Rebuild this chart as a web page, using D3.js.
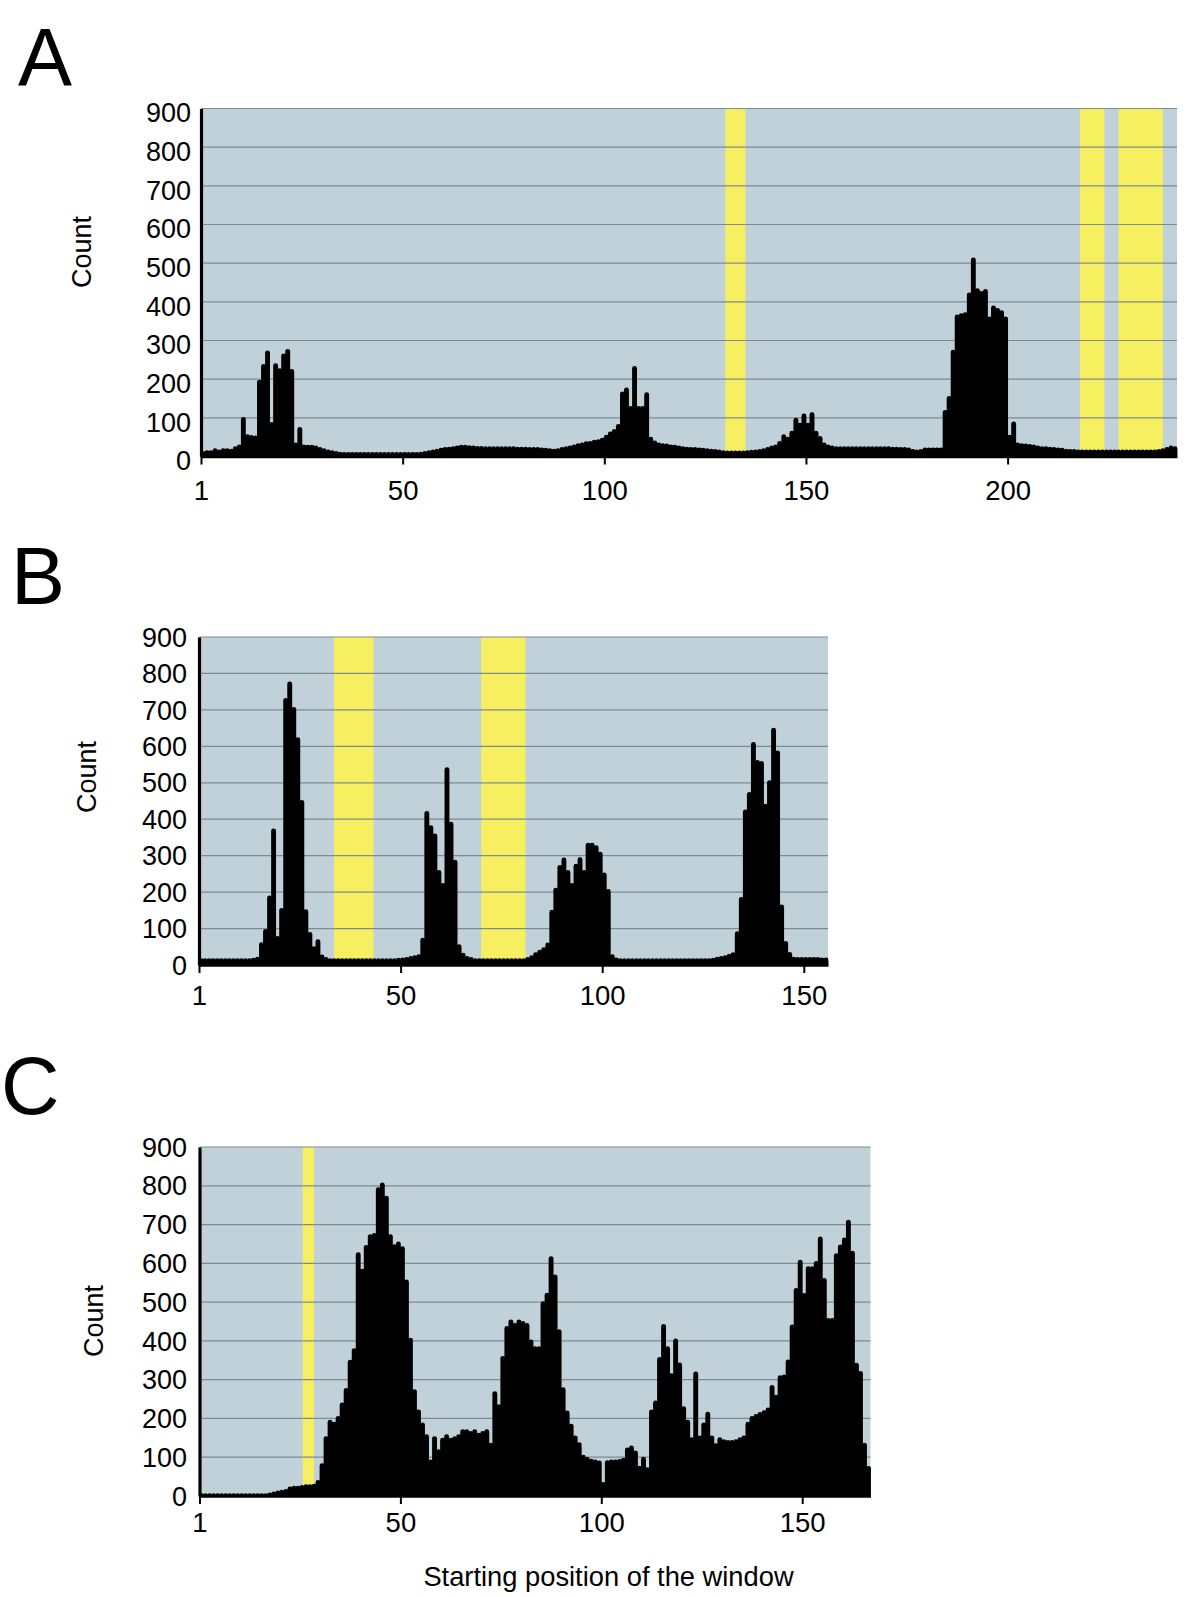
<!DOCTYPE html>
<html>
<head>
<meta charset="utf-8">
<script src="https://cdn.jsdelivr.net/npm/d3@7"></script>
<style>
body { margin: 0; background: #fff; }
svg text { font-family: "Liberation Sans", Arial, Helvetica, sans-serif; fill: #000; }
</style>
</head>
<body>
<svg id="fig" width="1196" height="1597"></svg>
<script>
// counts per window start position
var countsA = [
  8, 10, 10, 15, 12, 15, 15, 14, 20, 25,
  96, 51, 49, 48, 192, 233, 268, 83, 235, 222,
  260, 272, 220, 30, 70, 25, 24, 24, 22, 18,
  15, 12, 10, 8, 6, 5, 5, 5, 5, 5,
  5, 5, 5, 5, 5, 5, 5, 5, 5, 5,
  5, 5, 5, 5, 6, 8, 10, 12, 14, 16,
  18, 19, 20, 22, 24, 24, 23, 22, 21, 21,
  20, 20, 20, 20, 20, 20, 20, 20, 19, 19,
  19, 18, 18, 18, 17, 16, 15, 14, 15, 18,
  20, 22, 25, 28, 30, 33, 34, 37, 38, 42,
  50, 58, 65, 78, 162, 172, 124, 228, 124, 124,
  160, 45, 35, 30, 28, 27, 25, 24, 22, 20,
  19, 18, 18, 17, 16, 15, 14, 13, 12, 10,
  9, 9, 9, 9, 9, 10, 11, 12, 13, 15,
  18, 22, 25, 34, 51, 45, 60, 94, 81, 105,
  81, 108, 60, 47, 30, 25, 22, 20, 20, 20,
  20, 20, 20, 20, 20, 20, 20, 20, 20, 20,
  20, 19, 19, 18, 18, 17, 13, 12, 13, 17,
  17, 17, 17, 17, 114, 150, 270, 361, 364, 367,
  418, 508, 429, 422, 427, 356, 384, 378, 372, 356,
  50, 84, 30, 28, 27, 26, 25, 22, 20, 20,
  19, 18, 17, 16, 14, 13, 13, 12, 12, 12,
  12, 12, 12, 12, 12, 12, 12, 12, 12, 12,
  12, 12, 12, 12, 12, 12, 12, 13, 15, 18,
  22, 20
];

var countsB = [
  12, 12, 12, 12, 12, 12, 12, 12, 12, 12,
  12, 12, 12, 13, 16, 56, 92, 184, 368, 73,
  150, 726, 771, 701, 618, 446, 146, 84, 45, 64,
  22, 15, 12, 12, 12, 12, 12, 12, 12, 12,
  12, 12, 12, 12, 12, 12, 12, 12, 12, 13,
  14, 15, 18, 20, 23, 68, 416, 377, 354, 254,
  218, 536, 386, 282, 50, 27, 18, 15, 12, 12,
  12, 12, 12, 12, 12, 12, 12, 12, 12, 12,
  12, 15, 20, 28, 35, 42, 55, 145, 205, 268,
  288, 254, 218, 271, 289, 254, 329, 329, 322, 304,
  247, 202, 23, 14, 12, 12, 12, 12, 12, 12,
  12, 12, 12, 12, 12, 12, 12, 12, 12, 12,
  12, 12, 12, 12, 12, 12, 12, 13, 16, 18,
  20, 24, 28, 86, 180, 420, 468, 605, 556, 553,
  436, 500, 644, 582, 159, 59, 29, 16, 15, 15,
  15, 15, 15, 15, 14, 14
];

var countsC = [
  1, 1, 1, 1, 1, 1, 1, 1, 1, 1,
  1, 1, 1, 1, 1, 1, 1, 3, 5, 8,
  10, 12, 18, 20, 20, 22, 24, 24, 25, 35,
  78, 148, 190, 185, 200, 235, 272, 345, 375, 622,
  580, 641, 669, 672, 790, 802, 768, 669, 643, 650,
  638, 552, 402, 269, 217, 183, 153, 88, 148, 114,
  144, 153, 144, 148, 153, 166, 166, 161, 166, 157,
  161, 166, 131, 264, 230, 355, 432, 449, 440, 449,
  445, 440, 397, 380, 380, 496, 518, 612, 565, 424,
  274, 214, 180, 150, 132, 100, 94, 90, 88, 85,
  30, 86, 88, 88, 89, 92, 119, 124, 111, 72,
  95, 68, 217, 240, 352, 437, 380, 310, 400, 338,
  225, 190, 145, 315, 150, 183, 211, 150, 130, 145,
  140, 138, 138, 140, 145, 150, 185, 200, 205, 210,
  215, 222, 280, 255, 305, 307, 346, 436, 530, 603,
  517, 586, 586, 600, 663, 556, 453, 453, 620, 642,
  660, 706, 626, 337, 316, 131, 71
];

// highlighted (yellow) stretches, in window positions
var bandsA = [[130, 135], [218, 224], [227.5, 238.5]];
var bandsB = [[33.5, 43.3], [70, 81]];
var bandsC = [[25.7, 28.5]];

var yTicks = [0, 100, 200, 300, 400, 500, 600, 700, 800, 900];
var xTicksA = [0, 50, 100, 150, 200];
var xTicksB = [0, 50, 100, 150];
var xTicksC = [0, 50, 100, 150];

var xTitle = 'Starting position of the window';
var yTitle = 'Count';

var bg = '#c1d1d9', gridColor = '#7d8b93', bandColor = '#f6ef60';

var panels = [
  {letter: 'A', counts: countsA, bands: bandsA, xticks: xTicksA,
   left: 201, right: 1177, top: 108.5, bottom: 456.5,
   letterX: 18, letterY: 85, countX: 82, countY: 252, ylabX: 191, ylabDy: 4, xlabY: 490},
  {letter: 'B', counts: countsB, bands: bandsB, xticks: xTicksB,
   left: 199, right: 828, top: 637, bottom: 965,
   letterX: 11, letterY: 604, countX: 87, countY: 777, ylabX: 187, ylabDy: 0, xlabY: 995},
  {letter: 'C', counts: countsC, bands: bandsC, xticks: xTicksC,
   left: 199.5, right: 870.5, top: 1147, bottom: 1496,
   letterX: 1, letterY: 1114, countX: 94, countY: 1321, ylabX: 187, ylabDy: 0, xlabY: 1522}
];

var svg = d3.select('#fig');

panels.forEach(function(p, k) {
  var n = p.counts.length;
  var x = d3.scaleLinear().domain([0, n]).range([p.left, p.right]);
  var y = d3.scaleLinear().domain([0, 900]).range([p.bottom, p.top]);
  var g = svg.append('g').attr('class', 'panel');

  svg.append('text')
     .attr('x', p.letterX)
     .attr('y', p.letterY)
     .attr('font-size', 81)
     .text(p.letter);

  g.append('rect')
   .attr('x', p.left).attr('y', p.top)
   .attr('width', p.right - p.left).attr('height', p.bottom - p.top)
   .attr('fill', bg);

  g.selectAll('rect.band')
   .data(p.bands)
   .enter().append('rect')
   .attr('class', 'band')
   .attr('x', function(d) { return x(d[0]); })
   .attr('y', p.top)
   .attr('width', function(d) { return x(d[1]) - x(d[0]); })
   .attr('height', p.bottom - p.top)
   .attr('fill', bandColor);

  g.selectAll('line.grid')
   .data(yTicks.slice(1))
   .enter().append('line')
   .attr('class', 'grid')
   .attr('x1', p.left).attr('x2', p.right)
   .attr('y1', function(d) { return y(d); })
   .attr('y2', function(d) { return y(d); })
   .attr('stroke', gridColor)
   .attr('stroke-width', 1.2);

  var clipId = 'clip' + k;
  svg.append('clipPath').attr('id', clipId)
     .append('rect')
     .attr('x', p.left).attr('y', p.top - 30)
     .attr('width', p.right - p.left + 4).attr('height', p.bottom - p.top + 30);

  g.append('g')
   .attr('clip-path', 'url(#' + clipId + ')')
   .selectAll('line.bar')
   .data(p.counts)
   .enter().append('line')
   .attr('class', 'bar')
   .attr('x1', function(d, i) { return x(i + 0.5); })
   .attr('x2', function(d, i) { return x(i + 0.5); })
   .attr('y1', y(0) + 3)
   .attr('y2', function(d) { return y(d); })
   .attr('stroke', '#000')
   .attr('stroke-width', 4.9)
   .attr('stroke-linecap', 'round');

  var xAxis = d3.axisBottom(x)
                .tickValues(p.xticks)
                .tickFormat(function(d) { return d === 0 ? '1' : d; })
                .tickSize(8)
                .tickSizeOuter(0)
                .tickPadding(6);
  var gx = g.append('g')
            .attr('transform', 'translate(0,' + p.bottom + ')')
            .call(xAxis);
  gx.select('.domain').attr('stroke', '#000').attr('stroke-width', 2.6);
  gx.selectAll('.tick line').attr('stroke', '#000').attr('stroke-width', 2);
  gx.selectAll('.tick text')
    .attr('font-size', 27.5)
    .attr('font-family', '"Liberation Sans", Arial, sans-serif')
    .attr('y', p.xlabY - p.bottom)
    .attr('dy', '0.36em');

  var yAxis = d3.axisLeft(y)
                .tickValues(yTicks)
                .tickSize(0)
                .tickSizeOuter(0);
  var gy = g.append('g')
            .attr('transform', 'translate(' + p.left + ',0)')
            .call(yAxis);
  gy.select('.domain').attr('stroke', '#000').attr('stroke-width', 3.2);
  gy.selectAll('.tick text')
    .attr('font-size', 27)
    .attr('font-family', '"Liberation Sans", Arial, sans-serif')
    .attr('x', p.ylabX - p.left)
    .attr('dy', (0.34 * 27 + p.ylabDy) + 'px');

  svg.append('text')
     .attr('transform', 'translate(' + p.countX + ',' + p.countY + ') rotate(-90)')
     .attr('text-anchor', 'middle')
     .attr('dy', '0.35em')
     .attr('font-size', 27)
     .text(yTitle);
});

svg.append('text')
   .attr('x', 608.5)
   .attr('y', 1586)
   .attr('text-anchor', 'middle')
   .attr('font-size', 27.3)
   .text(xTitle);
</script>
</body>
</html>
